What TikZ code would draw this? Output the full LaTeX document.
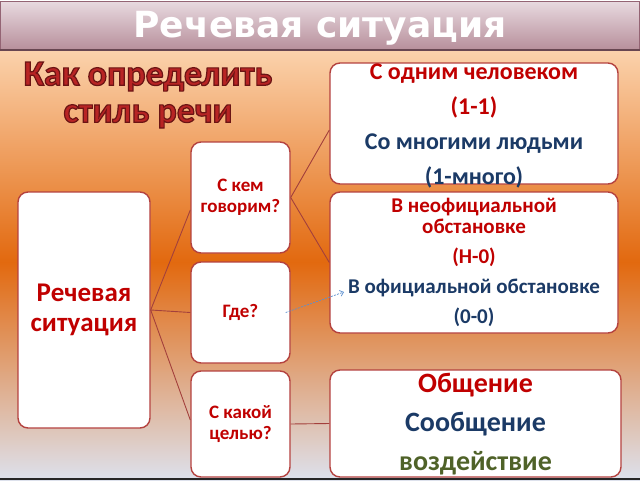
\documentclass[tikz,border=0pt]{standalone}
\usepackage{fontspec}
\setmainfont{Carlito}
\newfontfamily\headfont{DejaVu Sans}
\usetikzlibrary{arrows.meta}
\definecolor{boxred}{HTML}{B4423F}
\definecolor{linered}{HTML}{A3403C}
\definecolor{txtred}{HTML}{C00000}
\definecolor{txtblue}{HTML}{1B3A66}
\definecolor{txtgreen}{HTML}{4F6228}
\definecolor{headred}{HTML}{B82424}
\definecolor{peach}{HTML}{FBD2AC}
\definecolor{bgorange}{HTML}{E2690F}
\definecolor{bggrey}{HTML}{DDE1EC}
\definecolor{banhi}{HTML}{E8DAE0}
\definecolor{banlo}{HTML}{B8909C}
\definecolor{banedge}{HTML}{946474}
\definecolor{arrowblue}{HTML}{5B8FD0}

\begin{document}
\begin{tikzpicture}[x=1pt,y=-1pt,
    box/.style={draw=boxred,line width=1.4pt,fill=white,rounded corners=10pt,inner sep=0pt},
    link/.style={draw=linered,line width=0.9pt},
    lbl/.style={align=center,font=\bfseries,text=txtred,inner sep=0pt}] %
    \useasboundingbox (0,0) rectangle (640,480); %
    \shade[top color=peach,bottom color=bgorange] (0,50) rectangle (640,262); %
    \shade[top color=bgorange,bottom color=bggrey] (0,262) rectangle (640,480); %
    \fill[black!85] (0,477.5) rectangle (640,480); %
    \shade[top color=banhi,bottom color=banlo,draw=banedge,line width=1pt] (0.5,1) rectangle (639.5,49); %
    \draw[banedge!70!black,line width=1.5pt] (0,50) -- (640,50); %
    \node[font=\headfont\bfseries\fontsize{36}{40}\selectfont,text=white] (title) at (320,28) {Речевая ситуация}; %
    \node[lbl,font=\bfseries\fontsize{36}{37}\selectfont,text=headred] (how) at (148,95)
        {\special{pdf:literal direct 2 Tr 1.2 w 0.42 0.08 0.08 RG}Как определить\\стиль речи}; %
    % boxes
    \node[box,lbl,minimum width=132pt,minimum height=236pt,font=\bfseries\fontsize{27}{30}\selectfont] (sit) at (84,310) {Речевая\\ситуация}; %
    \node[box,lbl,minimum width=99pt,minimum height=111pt,font=\bfseries\fontsize{19}{21}\selectfont] (who) at (240.5,197.5) {С кем\\говорим?}; %
    \node[box,lbl,minimum width=99pt,minimum height=101pt,font=\bfseries\fontsize{19}{21}\selectfont] (where) at (240.5,312.5) {Где?}; %
    \node[box,lbl,minimum width=99pt,minimum height=106pt,font=\bfseries\fontsize{19}{21}\selectfont] (aim) at (240.5,424) {С какой\\целью?}; %
    \node[box,minimum width=288pt,minimum height=121pt] (one) at (474,123.5) {}; %
    \node[box,minimum width=288pt,minimum height=141pt] (place) at (474,262.5) {}; %
    \node[box,minimum width=291pt,minimum height=107pt] (goal) at (475.5,423.5) {}; %
    \node[lbl,font=\bfseries\fontsize{24}{35}\selectfont] (onetext) at ([yshift=-2pt]one.center)
        {С одним человеком\\(1-1)\\\textcolor{txtblue}{Со многими людьми}\\\textcolor{txtblue}{(1-много)}}; %
    \node[lbl,font=\bfseries\fontsize{21}{21}\selectfont] (placetext) at (place.center)
        {В неофициальной\\обстановке\\[9pt](Н-0)\\[9pt]\textcolor{txtblue}{В официальной обстановке}\\[9pt]\textcolor{txtblue}{(0-0)}}; %
    \node[lbl,font=\bfseries\fontsize{28}{39}\selectfont] (goaltext) at ([yshift=-1pt]goal.center)
        {Общение\\\textcolor{txtblue}{Сообщение}\\\textcolor{txtgreen}{воздействие}}; %
    % connectors
    \coordinate (tip) at (344,292); %
    \draw[link] (sit.east) -- ([yshift=-12.5pt]who.west); %
    \draw[link] (sit.east) -- (where.west); %
    \draw[link] (sit.east) -- ([yshift=4pt]aim.west); %
    \draw[link] (who.east) -- ([yshift=-6.5pt]one.west); %
    \draw[link] (who.east) -- (place.west); %
    \draw[link] (aim.east) -- (goal.west); %
    \draw[arrowblue,line width=0.7pt,dash pattern=on 2pt off 1.2pt,-{Straight Barb[length=3.5pt,width=6pt]}] ([xshift=-5pt]where.east) -- (tip); %
\end{tikzpicture}
\end{document}
